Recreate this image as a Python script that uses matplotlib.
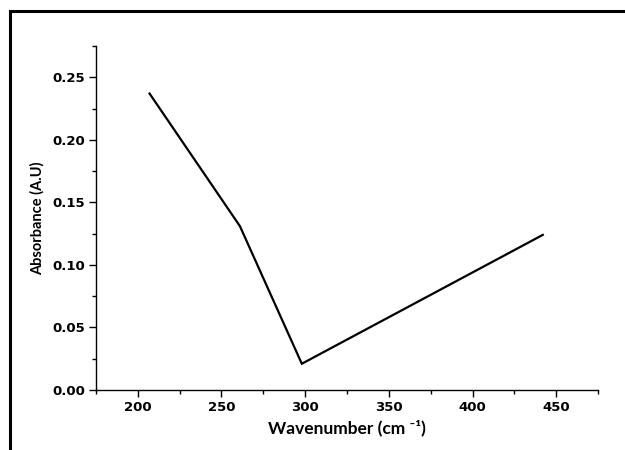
import matplotlib
matplotlib.use("Agg")
import matplotlib.pyplot as plt
from matplotlib.ticker import MultipleLocator
from matplotlib.lines import Line2D

# absorbance vs wavenumber
wavenumber = [207, 261, 298, 442]
absorbance = [0.237, 0.131, 0.021, 0.124]

xticks = [200, 250, 300, 350, 400, 450]
yticks = [0.00, 0.05, 0.10, 0.15, 0.20, 0.25]

fig = plt.figure(figsize=(6.25, 4.5), dpi=100)
ax = fig.add_axes([0.1536, 0.1333, 0.8032, 0.7645])

ax.plot(wavenumber, absorbance, color='black', lw=1.6, solid_joinstyle='miter')

ax.set_xlim(175, 475)
ax.set_ylim(0, 0.275)
ax.set_xticks(xticks)
ax.set_yticks(yticks)
ax.set_xticklabels([str(v) for v in xticks])
ax.set_yticklabels(['%.2f' % v for v in yticks])
ax.xaxis.set_minor_locator(MultipleLocator(25))
ax.yaxis.set_minor_locator(MultipleLocator(0.025))

for side in ['top', 'right']:
    ax.spines[side].set_visible(False)
for side in ['left', 'bottom']:
    ax.spines[side].set_linewidth(1.0)

ax.tick_params(which='major', direction='out', length=5, width=1.0, pad=3)
ax.tick_params(which='minor', direction='out', length=3, width=1.0)
for lab in ax.get_xticklabels() + ax.get_yticklabels():
    lab.set_fontsize(9.5)
    lab.set_fontweight('bold')
    lab.set_family('DejaVu Sans')

ax.set_xlabel('Wavenumber (cm \u207b\u00b9)', fontsize=12.5, fontweight='bold',
              family=['Lato', 'DejaVu Sans'], labelpad=4)
ax.set_ylabel('Absorbance (A.U)', fontsize=10.5, fontweight='bold',
              family=['Lato', 'DejaVu Sans'], labelpad=5)

# frame round the figure (top and left edges)
fig.add_artist(Line2D([10/625, 1.0], [1 - 11/450, 1 - 11/450], color='black', lw=2.2,
                      transform=fig.transFigure))
fig.add_artist(Line2D([10/625, 10/625], [0.0, 1 - 11/450], color='black', lw=2.2,
                      transform=fig.transFigure))

fig.savefig('out.png', dpi=100)
